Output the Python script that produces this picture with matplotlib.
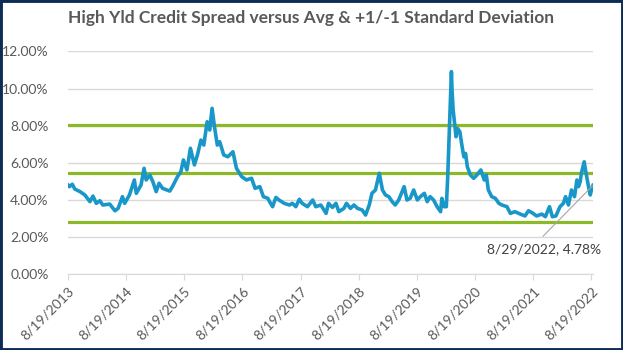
import matplotlib.pyplot as plt
import matplotlib.patches as patches
import pandas as pd

# High yield credit spread readings (date, spread in %)
dates = [
    '2013-08-19', '2013-08-28', '2013-09-15', '2013-10-01', '2013-11-03', '2013-12-03',
    '2014-01-04', '2014-01-23', '2014-02-13', '2014-03-07', '2014-03-26', '2014-05-08',
    '2014-06-10', '2014-06-30', '2014-07-27', '2014-08-10', '2014-09-09', '2014-10-10',
    '2014-10-22', '2014-11-21', '2014-12-10', '2014-12-23', '2015-01-15', '2015-02-03',
    '2015-02-24', '2015-03-14', '2015-04-05', '2015-05-20', '2015-06-06', '2015-07-08',
    '2015-07-29', '2015-08-14', '2015-09-05', '2015-09-27', '2015-10-22', '2015-11-10',
    '2015-12-02', '2015-12-20', '2016-01-10', '2016-01-26', '2016-02-10', '2016-02-25',
    '2016-03-14', '2016-03-29', '2016-04-23', '2016-05-19', '2016-06-20', '2016-07-12',
    '2016-08-14', '2016-09-13', '2016-10-15', '2016-11-06', '2016-12-06', '2016-12-28',
    '2017-01-25', '2017-02-05', '2017-02-24', '2017-03-17', '2017-04-05', '2017-05-08',
    '2017-06-10', '2017-06-28', '2017-07-20', '2017-08-11', '2017-08-29', '2017-10-01',
    '2017-11-03', '2017-11-22', '2017-12-24', '2018-01-26', '2018-02-10', '2018-03-07',
    '2018-03-29', '2018-04-16', '2018-05-18', '2018-06-03', '2018-06-28', '2018-07-20',
    '2018-08-11', '2018-09-10', '2018-10-01', '2018-10-24', '2018-11-10', '2018-12-02',
    '2018-12-26', '2019-01-15', '2019-02-03', '2019-02-24', '2019-03-17', '2019-04-05',
    '2019-04-27', '2019-05-31', '2019-06-18', '2019-07-08', '2019-07-30', '2019-08-22',
    '2019-09-10', '2019-10-05', '2019-10-23', '2019-11-10', '2019-12-02', '2019-12-24',
    '2020-01-15', '2020-01-23', '2020-02-06', '2020-02-20', '2020-02-28', '2020-03-05',
    '2020-03-16', '2020-03-23', '2020-03-27', '2020-04-03', '2020-04-14', '2020-04-21',
    '2020-04-30', '2020-05-15', '2020-05-26', '2020-06-09', '2020-06-20', '2020-07-01',
    '2020-07-20', '2020-08-10', '2020-08-30', '2020-09-24', '2020-10-15', '2020-10-28',
    '2020-11-10', '2020-12-01', '2020-12-24', '2021-01-15', '2021-02-03', '2021-03-07',
    '2021-03-28', '2021-04-26', '2021-05-30', '2021-06-28', '2021-07-20', '2021-08-12',
    '2021-09-09', '2021-10-12', '2021-11-03', '2021-11-29', '2021-12-17', '2022-01-08',
    '2022-02-03', '2022-02-24', '2022-03-10', '2022-03-28', '2022-04-16', '2022-05-05',
    '2022-05-20', '2022-05-30', '2022-06-10', '2022-06-17', '2022-07-05', '2022-07-13',
    '2022-08-01', '2022-08-12', '2022-08-22', '2022-08-29',
]
spread = [
    4.80, 4.71, 4.84, 4.58, 4.44, 4.26,
    3.90, 4.20, 3.81, 3.95, 3.72, 3.77,
    3.41, 3.54, 4.17, 3.81, 4.26, 5.07,
    4.35, 4.80, 5.70, 5.07, 5.34, 4.98,
    4.44, 4.89, 4.62, 4.47, 4.71, 5.25,
    5.52, 6.15, 5.61, 6.78, 5.88, 6.42,
    7.22, 6.95, 8.21, 7.76, 8.93, 7.94,
    6.95, 7.13, 6.42, 6.32, 6.59, 5.70,
    5.25, 5.07, 5.16, 4.62, 4.71, 4.17,
    4.08, 3.90, 3.63, 4.13, 3.99, 3.81,
    3.72, 3.81, 3.63, 4.03, 3.81, 3.63,
    3.99, 3.63, 3.72, 3.27, 3.81, 3.59,
    3.81, 3.36, 3.54, 3.81, 3.54, 3.72,
    3.54, 3.45, 3.18, 3.72, 4.35, 4.53,
    5.43, 4.53, 4.26, 4.17, 3.90, 3.72,
    3.99, 4.71, 3.99, 4.08, 4.53, 3.99,
    4.17, 4.35, 3.90, 4.17, 3.99, 3.63,
    3.36, 4.08, 3.63, 3.63, 5.07, 6.50,
    9.20, 10.91, 9.92, 8.84, 7.94, 7.40,
    7.85, 7.67, 7.04, 6.32, 6.50, 5.78,
    5.34, 5.16, 5.34, 5.61, 5.07, 5.34,
    4.53, 4.17, 4.08, 3.81, 3.72, 3.63,
    3.27, 3.36, 3.23, 3.13, 3.41, 3.30,
    3.13, 3.23, 3.09, 3.63, 3.09, 3.13,
    3.63, 3.81, 4.17, 3.72, 4.53, 4.17,
    5.07, 4.71, 4.98, 5.43, 6.05, 5.61,
    4.71, 4.26, 4.62, 4.78,
]

# Average and +1/-1 standard deviation bands
band_levels = [8.06, 5.43, 2.82]

tick_dates = ['2013-08-19', '2014-08-19', '2015-08-19', '2016-08-19', '2017-08-19',
              '2018-08-19', '2019-08-19', '2020-08-19', '2021-08-19', '2022-08-19']
tick_labels = ['8/19/2013', '8/19/2014', '8/19/2015', '8/19/2016', '8/19/2017',
               '8/19/2018', '8/19/2019', '8/19/2020', '8/19/2021', '8/19/2022']

plt.rcParams['font.family'] = ['Lato', 'DejaVu Sans']

x = pd.to_datetime(dates)
ticks = pd.to_datetime(tick_dates)

fig = plt.figure(figsize=(6.23, 3.5), dpi=100)
ax = fig.add_axes([0.1091, 0.2171, 0.8427, 0.636])

gray_text = '#595959'
ax.set_ylim(0, 12)
ax.set_xlim(x[0], x[-1])
ax.set_yticks(range(0, 13, 2))
ax.set_yticklabels([f'{v:.2f}%' for v in range(0, 13, 2)], fontsize=10, color=gray_text)
ax.grid(axis='y', color='#d9d9d9', lw=1)
ax.set_axisbelow(True)

# Avg and +/-1 std dev lines
for lvl in band_levels:
    ax.axhline(lvl, color='#8cb927', lw=2.3, zorder=2)

ax.plot(x, spread, color='#1a97c9', lw=2.6, zorder=3, solid_joinstyle='round')

ax.set_xticks(ticks)
ax.set_xticklabels(tick_labels, rotation=45, ha='right', rotation_mode='anchor',
                   fontsize=10, color=gray_text)
ax.tick_params(axis='x', length=4, color='#d9d9d9', pad=4)
ax.tick_params(axis='y', length=0, pad=14)

for side in ['top', 'right', 'left']:
    ax.spines[side].set_visible(False)
ax.spines['bottom'].set_color('#d9d9d9')

# Label for the latest point
ax.annotate('', xy=(x[-1], spread[-1]), xytext=(-50, -51), textcoords='offset pixels',
            arrowprops=dict(arrowstyle='-', color='#a6a6a6', lw=0.8, shrinkA=0, shrinkB=0))
ax.annotate('8/29/2022, 4.78%', xy=(x[-1], spread[-1]), xytext=(-49, -64),
            textcoords='offset pixels', ha='center', va='center', fontsize=10, color='#404040')

fig.text(0.5, 0.948, 'High Yld Credit Spread versus Avg & +1/-1 Standard Deviation',
         ha='center', va='center', fontsize=12.5, fontweight='bold', color=gray_text)

fig.patches.append(patches.Rectangle((0, 0), 1, 1, transform=fig.transFigure, fill=False,
                                     edgecolor='#0d2b55', lw=3.5))

plt.savefig('out.png', dpi=100)
